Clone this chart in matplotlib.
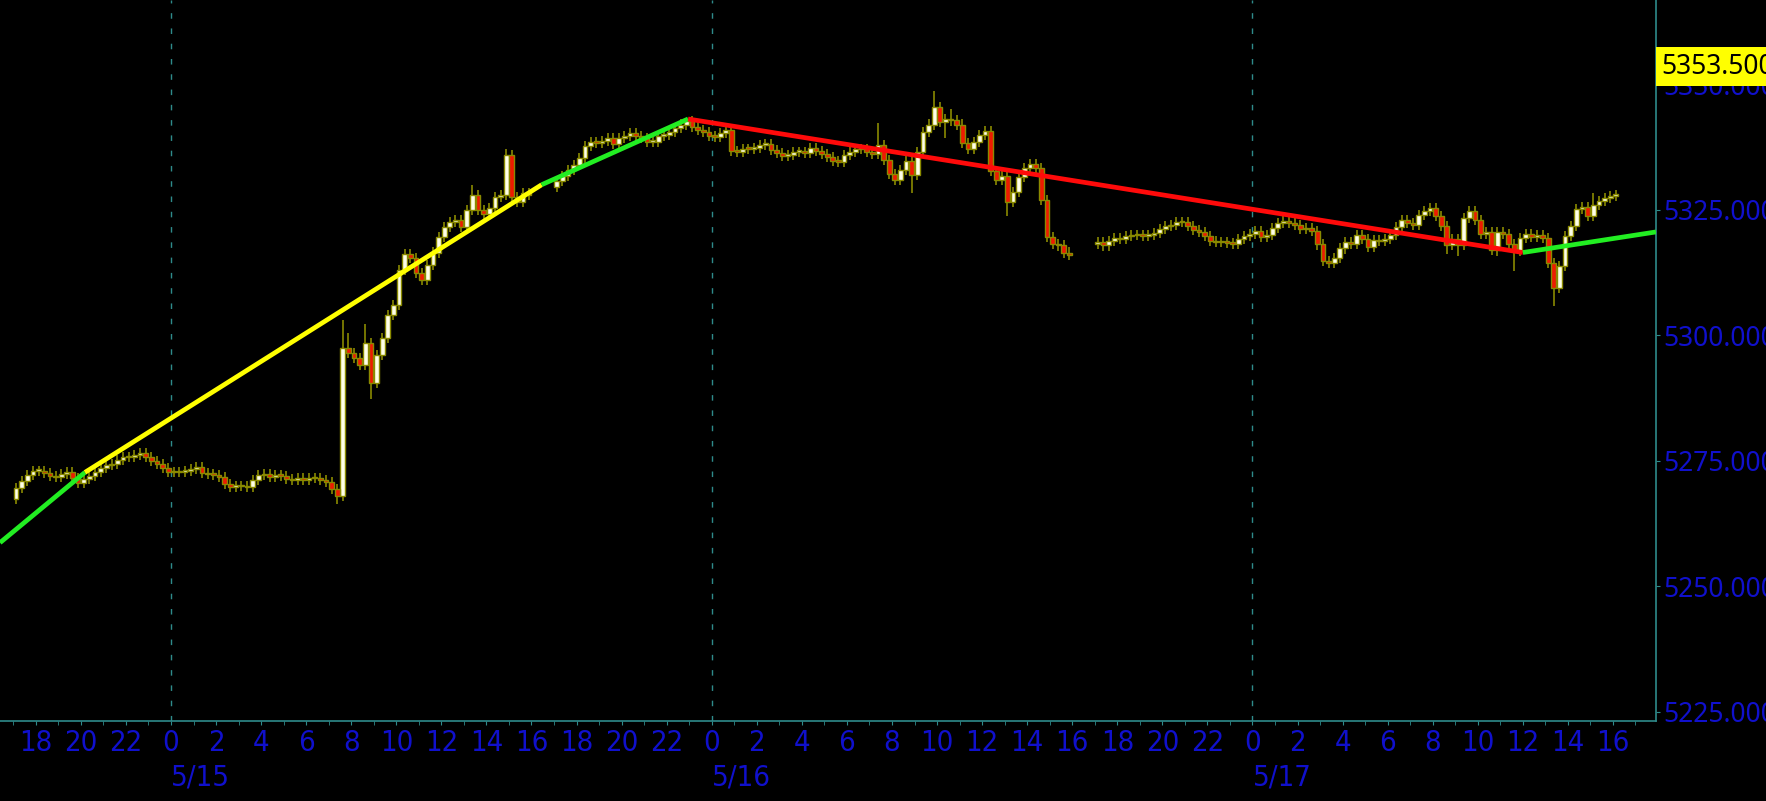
import numpy as np
import matplotlib.pyplot as plt
from matplotlib.ticker import MultipleLocator, FuncFormatter
import matplotlib.transforms as mtransforms

# 15-minute candles, time in hours counted from 5/15 00:00 (chart time)
session_starts = [-7.0, 17.0, 41.0]
session_opens = [5267.5, 5329.5, 5318.2]

closes_a = [
    5269.5, 5271.0, 5272.2, 5273.0, 5273.0, 5272.5, 5272.0, 5271.7, 5272.4, 5272.7,
    5271.5, 5270.6, 5271.3, 5272.0, 5272.8, 5273.6, 5274.1, 5274.3, 5275.2, 5275.7,
    5275.8, 5276.1, 5276.6, 5275.8, 5275.0, 5274.4, 5273.5,
    5272.8, 5272.7, 5272.8, 5273.0, 5273.4, 5273.8, 5272.6, 5272.3, 5272.2, 5271.8,
    5270.4, 5269.8, 5270.0, 5269.9, 5269.7, 5271.2, 5272.1, 5272.4, 5271.8, 5272.1,
    5272.0, 5271.3, 5271.1, 5271.5, 5271.1, 5271.6, 5271.5, 5271.2, 5270.7, 5269.3,
    5268.0,
    5297.5, 5296.5, 5295.5, 5294.0, 5298.5, 5290.5, 5296.0, 5299.5, 5304.0, 5306.0,
    5313.0, 5316.2, 5315.5, 5312.5, 5311.0, 5314.0, 5316.5, 5319.5, 5321.5, 5322.5,
    5323.0, 5321.5, 5325.0, 5328.0, 5325.0, 5324.2, 5325.3, 5327.5, 5328.0, 5336.0,
    5327.5, 5326.5, 5328.3, 5328.0,
]
closes_b = [
    5330.8, 5331.8, 5333.0, 5334.0, 5335.4, 5337.8, 5338.6, 5338.4, 5338.8, 5339.4,
    5338.1, 5339.3, 5339.8, 5340.3, 5339.8, 5339.3, 5338.6, 5338.6, 5339.7, 5340.0,
    5340.6, 5341.3, 5342.0, 5342.6, 5341.5, 5340.9, 5340.6, 5339.8, 5339.6, 5340.3,
    5340.9, 5336.8, 5336.6, 5337.2, 5337.1, 5337.3, 5337.9, 5338.1, 5337.0, 5336.4,
    5335.8, 5336.0, 5336.5, 5336.5, 5336.4, 5337.3, 5336.7, 5336.2, 5335.5, 5334.8,
    5334.6, 5336.0, 5336.5, 5337.1, 5337.1, 5336.6, 5336.2, 5338.0, 5335.0, 5332.2,
    5330.9, 5333.0, 5334.8, 5332.0, 5336.5, 5340.5, 5342.0, 5345.5, 5342.5, 5343.0,
    5342.8, 5342.0, 5338.3, 5337.2, 5338.6, 5339.9, 5340.8, 5332.8, 5331.0, 5331.8,
    5326.5, 5328.5, 5331.6, 5333.3, 5334.2, 5333.3, 5327.0, 5319.5, 5318.2, 5317.9,
    5316.5, 5316.0,
]
closes_c = [
    5318.6, 5317.9, 5318.7, 5319.4, 5319.1, 5319.7, 5320.0, 5319.9, 5319.8, 5320.0,
    5320.3, 5321.1, 5321.7, 5322.0, 5322.5, 5322.6, 5321.7, 5321.0, 5320.6, 5319.7,
    5318.8, 5318.5, 5318.6, 5318.4, 5318.2, 5319.2, 5319.7, 5320.1, 5320.7, 5319.6,
    5320.0, 5321.3, 5322.4, 5322.7, 5322.4, 5322.0, 5321.1, 5321.4, 5320.8, 5318.1,
    5314.8, 5314.5, 5315.5, 5317.3, 5318.6, 5318.2, 5320.0, 5319.1, 5317.6, 5319.0,
    5318.7, 5319.2, 5319.9, 5321.5, 5323.0, 5322.4, 5322.0, 5324.0, 5324.8, 5325.4,
    5323.8, 5321.7, 5318.0, 5319.1, 5318.0, 5323.4, 5324.7, 5323.0, 5320.2, 5320.5,
    5317.0, 5320.5, 5320.2, 5318.1, 5316.8, 5319.3, 5320.2, 5319.5, 5320.0, 5319.4,
    5314.5, 5309.5, 5313.8, 5319.8, 5321.8, 5325.2, 5325.5, 5323.8, 5326.0, 5326.8,
    5327.4, 5327.8, 5328.0,
]

# long wicks, keyed by candle start time
spike_highs = {7.5: 5303.0, 7.75: 5300.5, 8.5: 5302.2, 13.25: 5330.0, 14.75: 5337.1,
               22.75: 5343.1, 31.25: 5342.3, 33.75: 5348.6, 34.5: 5345.0, 63.0: 5328.4}
spike_lows = {-7.0: 5266.4, 7.25: 5266.4, 8.75: 5287.3, 11.0: 5310.1, 32.75: 5328.4,
              34.25: 5339.3, 37.0: 5323.8, 56.5: 5316.2, 57.0: 5315.8, 58.75: 5315.8,
              59.5: 5312.9, 61.25: 5305.8}

# trendlines (hour, price) segments
trend_lines = [
    ([-7.59, -3.82], [5258.7, 5272.7], "#22ee22"),
    ([-3.82, 16.45], [5272.7, 5330.0], "#ffff00"),
    ([16.45, 22.95], [5330.0, 5343.1], "#22ee22"),
    ([22.95, 60.0], [5343.1, 5316.5], "#ff0a0a"),
    ([60.0, 65.91], [5316.5, 5320.6], "#22ee22"),
]

day_starts = [0, 24, 48]
day_labels = ["5/15", "5/16", "5/17"]
hour_ticks = list(range(-6, 65, 2))
y_ticks = [5225, 5250, 5275, 5300, 5325, 5350]
last_price = 5353.5

teal = "#2e8b8b"
blue = "#1010cc"
olive = "#8a8a00"

# build OHLC
t, o, h, l, c = [], [], [], [], []
for start, first_open, closes in zip(session_starts, session_opens, [closes_a, closes_b, closes_c]):
    prev = first_open
    for i, cl in enumerate(closes):
        ts = start + 0.25 * i
        t.append(ts)
        o.append(prev)
        c.append(cl)
        h.append(spike_highs.get(ts, max(prev, cl) + 1.0))
        l.append(spike_lows.get(ts, min(prev, cl) - 1.0))
        prev = cl
t, o, h, l, c = map(np.array, (t, o, h, l, c))
x = t + 0.125
up = c >= o

fig = plt.figure(figsize=(17.66, 8.01), dpi=100, facecolor="black")
ax = fig.add_axes([0.0, 0.1, 1656 / 1766, 0.9])
ax.set_facecolor("black")

for d in day_starts:
    ax.axvline(d, color=teal, lw=1, ls=(0, (4, 7)), zorder=1)

ax.vlines(x, l, h, color=olive, lw=1.2, zorder=2)
body = np.maximum(np.abs(c - o), 0.35)
ax.bar(x[up], body[up], bottom=o[up], width=0.21, color="#ffffe8",
       edgecolor=olive, lw=1.0, zorder=3)
ax.bar(x[~up], body[~up], bottom=c[~up], width=0.21, color="#ee1a00",
       edgecolor=olive, lw=1.0, zorder=3)

for xs, ys, col in trend_lines:
    ax.plot(xs, ys, color=col, lw=3.4, solid_capstyle="butt", zorder=4)

ax.set_xlim(-7.59, 65.91)
ax.set_ylim(5223.2, 5366.8)

for s in ["top", "left"]:
    ax.spines[s].set_visible(False)
for s in ["right", "bottom"]:
    ax.spines[s].set_color(teal)
    ax.spines[s].set_linewidth(1.2)

ax.yaxis.tick_right()
ax.set_yticks(y_ticks)
ax.yaxis.set_major_formatter(FuncFormatter(lambda v, _: f"{v:.3f}"))
ax.tick_params(axis="y", colors=teal, labelcolor=blue, length=3, pad=2,
               labelsize=19, labelfontfamily="Noto Sans")

ax.set_xticks(hour_ticks, [str(v % 24) for v in hour_ticks],
              fontsize=21, family="DejaVu Sans", stretch="condensed")
ax.xaxis.set_minor_locator(MultipleLocator(1))
ax.tick_params(axis="x", which="both", colors=teal, labelcolor=blue, length=3)
ax.tick_params(axis="x", which="major", pad=3)

trans = mtransforms.blended_transform_factory(ax.transData, ax.transAxes)
for d, lab in zip(day_starts, day_labels):
    ax.text(d, -0.079, lab, transform=trans, ha="left", va="center", color=blue,
            fontsize=21, family="DejaVu Sans", stretch="condensed", clip_on=False)

box_trans = mtransforms.blended_transform_factory(ax.transAxes, ax.transData) + \
    mtransforms.ScaledTranslation(4 / 72, 0, fig.dpi_scale_trans)
ax.text(1.0, last_price, f"{last_price:.3f}", transform=box_trans, ha="left", va="center",
        fontsize=19, family="Noto Sans", color="black", clip_on=False, zorder=10,
        bbox=dict(boxstyle="square,pad=0.2", fc="#ffff00", ec="none"))

fig.savefig("out.png", dpi=100, facecolor="black")
